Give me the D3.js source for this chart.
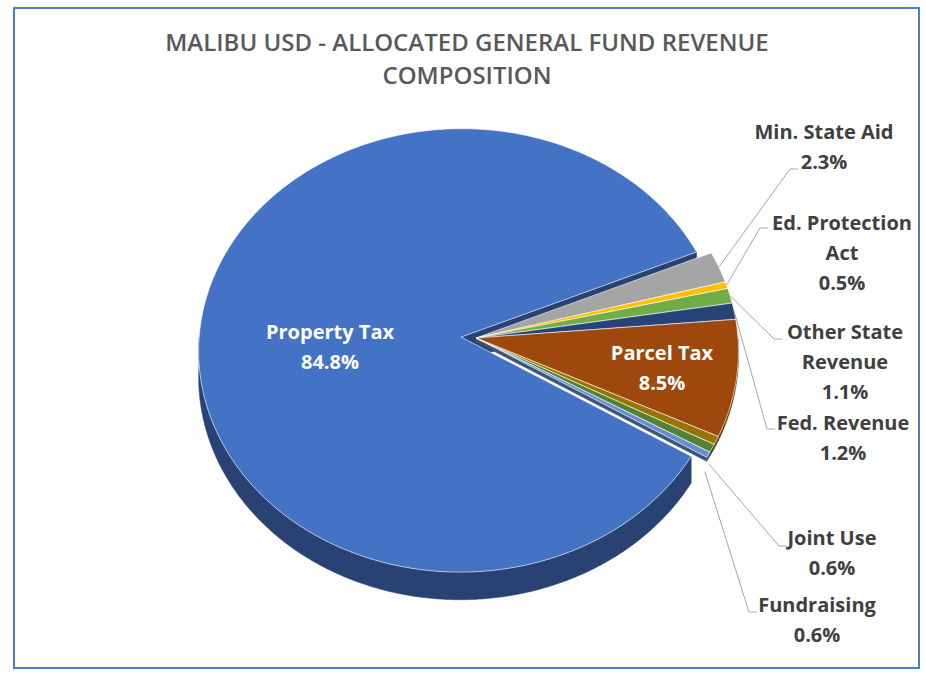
<!DOCTYPE html>
<html>
<head>
<meta charset="utf-8">
<script src="https://cdnjs.cloudflare.com/ajax/libs/d3/7.8.5/d3.min.js"></script>
<style>
  body { margin: 0; background: #fff; }
  svg { display: block; font-family: "Open Sans", Lato, sans-serif; }
</style>
</head>
<body>
<div id="app"></div>
<script>
// data
var categories = ['Property Tax', 'Min. State Aid', 'Ed. Protection|Act', 'Other State|Revenue',
                  'Fed. Revenue', 'Parcel Tax', 'Joint Use', 'Fundraising', ''];
var values = [84.8, 2.3, 0.5, 1.1, 1.2, 8.5, 0.6, 0.6, 0.4];
var colors = ['#4472C4', '#A5A5A5', '#FFC000', '#70AD47', '#264478', '#9E480E', '#997300', '#548235', '#698ED0'];
var titleLines = ['MALIBU USD - ALLOCATED GENERAL FUND REVENUE', 'COMPOSITION'];

// label layout (text centre x, first baseline y) and leader line ends
var labelPos = [[330, 339], [824, 139], [842, 230], [845, 339], [843, 430], [662, 360], [832, 545], [817, 612], null];
var leaderEnd = [null, [798, 169], [768, 228], [782, 339], [775, 429], null, [787, 546], [757, 612], null];
var insideLabel = [true, false, false, false, false, true, false, false, false];

var width = 926, height = 678,
    cx = 476, cy = 338,
    R = 262, A = 221, persp = 0.06,
    depth = 26, thinDepth = 4,
    explode = 0.057,
    startDeg = 121.5,
    lineH = 30;

var svg = d3.select('#app').append('svg')
            .attr('width', width)
            .attr('height', height);

svg.append('rect')
   .attr('x', 14).attr('y', 8)
   .attr('width', 905).attr('height', 660)
   .attr('fill', '#fff')
   .attr('stroke', '#4a7cc8')
   .attr('stroke-width', 2);

svg.selectAll('.title').data(titleLines).enter().append('text')
   .attr('class', 'title')
   .attr('x', 467)
   .attr('y', function(d, i){ return 51 + i*33; })
   .attr('text-anchor', 'middle')
   .attr('font-size', 24)
   .attr('font-weight', 600)
   .attr('fill', '#595959')
   .text(function(d){ return d; });

var pie = d3.pie().sort(null).value(function(d){ return d; })
            .startAngle(startDeg*Math.PI/180)
            .endAngle(startDeg*Math.PI/180 + 2*Math.PI);
var arcs = pie(values);

// screen angle: 0 at 3 o'clock, clockwise
arcs.forEach(function(a, i){
  a.t0 = a.startAngle - Math.PI/2;
  a.t1 = a.endAngle - Math.PI/2;
  a.tm = (a.t0 + a.t1)/2;
  a.off = i === 0 ? [explode*Math.cos(a.tm), explode*Math.sin(a.tm)] : [0, 0];
  a.depth = i === 0 ? depth : thinDepth;
  a.color = colors[i];
});

function proj(th, r, h, off) {
  var u = r*Math.cos(th) + off[0],
      v = r*Math.sin(th) + off[1],
      w = 1 - persp*v;
  return [cx + R*u/w, cy + (A*v + h)/w];
}

function arcPts(t0, t1, r, h, off) {
  var n = Math.max(2, Math.ceil(Math.abs(t1 - t0)/(Math.PI/360))), pts = [];
  for (var k = 0; k <= n; k++) pts.push(proj(t0 + (t1 - t0)*k/n, r, h, off));
  return pts;
}

var line = d3.line();
var wallG = svg.append('g'), topG = svg.append('g'), labelG = svg.append('g');

// radial faces where neighbouring slices are pulled apart
arcs.forEach(function(a, i){
  var n = arcs.length,
      prev = arcs[(i - 1 + n) % n], next = arcs[(i + 1) % n];
  [[a.t0, -Math.PI/2, prev], [a.t1, Math.PI/2, next]].forEach(function(e){
    if (Math.sin(e[0] + e[1]) <= 0) return;
    if (e[2].off[0] === a.off[0] && e[2].off[1] === a.off[1]) return;
    var p = [proj(e[0], 0, 0, a.off), proj(e[0], 1, 0, a.off),
             proj(e[0], 1, a.depth, a.off), proj(e[0], 0, a.depth, a.off)];
    wallG.append('path')
         .attr('d', line(p) + 'Z')
         .attr('fill', d3.color(a.color).darker(1.5))
         .attr('stroke', d3.color(a.color).darker(1.5))
         .attr('stroke-width', 0.5);
  });
});

// outer rim walls, front half only
arcs.forEach(function(a){
  for (var k = -1; k <= 2; k++) {
    var lo = Math.max(a.t0, 2*Math.PI*k), hi = Math.min(a.t1, 2*Math.PI*k + Math.PI);
    if (hi <= lo) continue;
    var pts = arcPts(lo, hi, 1, 0, a.off).concat(arcPts(hi, lo, 1, a.depth, a.off));
    wallG.append('path')
         .attr('d', line(pts) + 'Z')
         .attr('fill', d3.color(a.color).darker(1.5))
         .attr('stroke', d3.color(a.color).darker(1.5))
         .attr('stroke-width', 0.5);
  }
});

// top faces
topG.selectAll('path').data(arcs).enter().append('path')
    .attr('d', function(a){
      return line([proj(0, 0, 0, a.off)].concat(arcPts(a.t0, a.t1, 1, 0, a.off))) + 'Z';
    })
    .attr('fill', function(a){ return a.color; })
    .attr('stroke', '#fff')
    .attr('stroke-opacity', 0.75)
    .attr('stroke-width', 0.8)
    .attr('stroke-linejoin', 'round');

// labels and leader lines
arcs.forEach(function(a, i){
  if (!labelPos[i]) return;
  var lines = categories[i].split('|').concat([values[i].toFixed(1) + '%']);
  if (leaderEnd[i]) {
    var vm = Math.sin(a.tm),
        anchor = vm > 0.3 ? proj(a.tm, 0.97, depth, a.off) : proj(a.tm, 1, 0, a.off),
        end = leaderEnd[i],
        elbow = [end[0] - 8, end[1]];
    labelG.append('path')
          .attr('d', line([anchor, elbow, end]))
          .attr('fill', 'none')
          .attr('stroke', '#a6a6a6')
          .attr('stroke-width', 1);
  }
  labelG.selectAll(null).data(lines).enter().append('text')
        .attr('x', labelPos[i][0])
        .attr('y', function(d, j){ return labelPos[i][1] + j*lineH; })
        .attr('text-anchor', 'middle')
        .attr('font-size', 20)
        .attr('font-weight', 700)
        .attr('fill', insideLabel[i] ? '#fff' : '#404040')
        .text(function(d){ return d; });
});
</script>
</body>
</html>
